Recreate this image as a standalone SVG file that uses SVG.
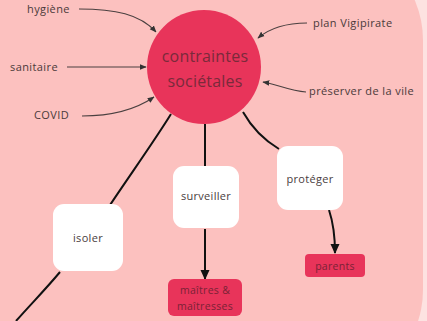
<svg xmlns="http://www.w3.org/2000/svg" width="427" height="321" viewBox="0 0 427 321">
<defs>
<style>
.lbl{font-family:"Open Sans","Liberation Sans",sans-serif;font-size:11px;letter-spacing:0.4px;fill:#4a3a3a}
.nt{font-family:"Open Sans","Liberation Sans",sans-serif;font-size:11px;letter-spacing:0.3px;fill:#4a4040;text-anchor:middle}
.rt{font-family:"Open Sans","Liberation Sans",sans-serif;font-size:10.5px;letter-spacing:0.3px;fill:#7a2236;text-anchor:middle}
.ct{font-family:"Open Sans","Liberation Sans",sans-serif;font-size:16px;letter-spacing:0.2px;fill:#7a2a3a;text-anchor:middle}
.thin{fill:none;stroke:#4a4040;stroke-width:1.1}
.thick{fill:none;stroke:#111;stroke-width:2}
.wbox{fill:#fff}
.rbox{fill:#e8345a}
</style>
<marker id="as" viewBox="0 0 10 10" refX="9" refY="5" markerWidth="7" markerHeight="7" markerUnits="userSpaceOnUse" orient="auto">
<path d="M0,1 L10,5 L0,9 Z" fill="#333"/>
</marker>
<marker id="ab" viewBox="0 0 10 10" refX="9" refY="5" markerWidth="10" markerHeight="10" markerUnits="userSpaceOnUse" orient="auto">
<path d="M0,0.5 L10,5 L0,9.5 Z" fill="#111"/>
</marker>
</defs>
<rect x="0" y="0" width="427" height="321" fill="#fde2e1"/>
<rect x="-60" y="-60" width="483" height="450" rx="100" fill="#fcc1bf"/>
<g id="connectors">
<path class="thin" d="M79,9 C115,9 140,14 156,32" marker-end="url(#as)"/>
<path class="thin" d="M67,67 L146,67" marker-end="url(#as)"/>
<path class="thin" d="M82,116 C110,116 135,110 154,97" marker-end="url(#as)"/>
<path class="thin" d="M307,23 C285,23 270,28 258,38" marker-end="url(#as)"/>
<path class="thin" d="M306,92 C290,91 276,84 263,82" marker-end="url(#as)"/>
<path class="thick" d="M171,114 C155,140 130,175 110,205"/>
<path class="thick" d="M60,272 C45,290 30,305 16,321"/>
<path class="thick" d="M205,124 L205,166"/>
<path class="thick" d="M243,112 C252,128 264,140 279,149"/>
<path class="thick" d="M205,229 L205,279" marker-end="url(#ab)"/>
<path class="thick" d="M329,210 C333,222 335,238 335,253" marker-end="url(#ab)"/>
</g>
<g id="hygiene"><text class="lbl" x="27" y="13">hygiène</text></g>
<g id="sanitaire"><text class="lbl" x="10" y="71">sanitaire</text></g>
<g id="covid"><text class="lbl" x="34" y="119">COVID</text></g>
<g id="plan-vigipirate"><text class="lbl" x="313" y="27">plan Vigipirate</text></g>
<g id="preserver"><text class="lbl" x="309" y="95">préserver de la vile</text></g>
<g id="contraintes">
<circle cx="204" cy="67" r="57" fill="#e8345a"/>
<text class="ct" x="205" y="62">contraintes</text>
<text class="ct" x="205" y="87">sociétales</text>
</g>
<g id="isoler">
<rect class="wbox" x="53" y="204" width="70" height="67" rx="11"/>
<text class="nt" x="88" y="242">isoler</text>
</g>
<g id="surveiller">
<rect class="wbox" x="173" y="166" width="66" height="62" rx="11"/>
<text class="nt" x="206" y="200">surveiller</text>
</g>
<g id="proteger">
<rect class="wbox" x="277" y="146" width="66" height="64" rx="11"/>
<text class="nt" x="310" y="183">protéger</text>
</g>
<g id="parents">
<rect class="rbox" x="305" y="254" width="60" height="23" rx="4"/>
<text class="rt" x="335" y="270">parents</text>
</g>
<g id="maitres">
<rect class="rbox" x="168" y="279" width="74" height="37" rx="6"/>
<text class="rt" x="205" y="294">maîtres &amp;</text>
<text class="rt" x="205" y="310">maîtresses</text>
</g>
</svg>
